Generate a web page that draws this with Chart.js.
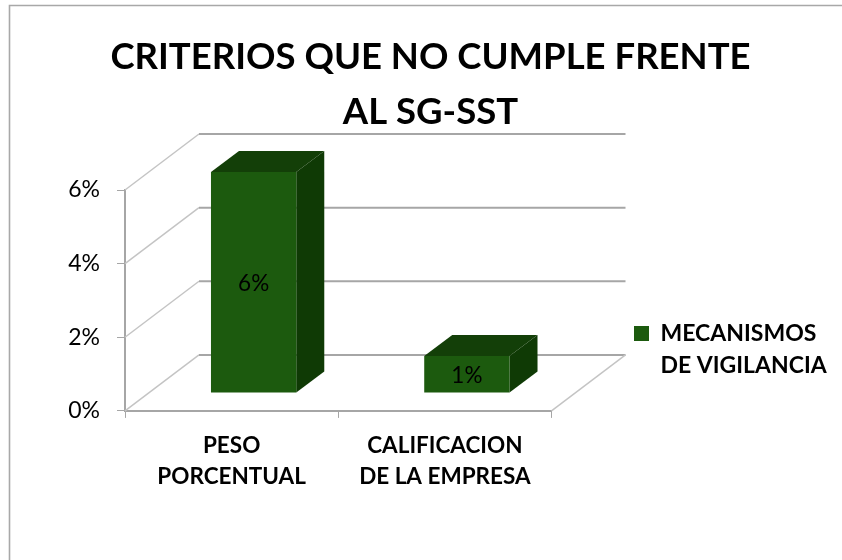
<!DOCTYPE html>
<html>
<head>
<meta charset="utf-8">
<title>Criterios</title>
<script src="https://cdn.jsdelivr.net/npm/chart.js@4"></script>
<style>
  html, body { margin: 0; padding: 0; background: #fff; }
  #wrap { width: 842px; height: 560px; position: relative; }
</style>
</head>
<body>
<div id="wrap"><canvas id="chart" width="842" height="560"></canvas></div>
<script>
var titleLines = ['CRITERIOS QUE NO CUMPLE FRENTE', 'AL SG-SST'];
var categories = [['PESO', 'PORCENTUAL'], ['CALIFICACION', 'DE LA EMPRESA']];
var seriesName = ['MECANISMOS', 'DE VIGILANCIA'];
var seriesValues = [6, 1];
var yTicks = [0, 2, 4, 6];

var FONT = 'Lato, Carlito, Calibri, sans-serif';
var GREEN = '#1c5a0e', GREEN_TOP = '#133f08', GREEN_SIDE = '#0f3a05';
var GRID = '#a6a6a6', GRID_SLANT = '#c4c4c4';

// depth of the fake 3d box, in pixels
var WALL_X = 74, WALL_Y = 56;
var BAR_SHIFT_X = 22, BAR_SHIFT_Y = 18;
var BAR_DEPTH_X = 28, BAR_DEPTH_Y = 21;

function line(ctx, pts, color, w) {
    ctx.strokeStyle = color;
    ctx.lineWidth = w;
    ctx.beginPath();
    pts.forEach(function (p, i) { i ? ctx.lineTo(p[0], p[1]) : ctx.moveTo(p[0], p[1]); });
    ctx.stroke();
}

function poly(ctx, pts, color) {
    ctx.fillStyle = color;
    ctx.beginPath();
    pts.forEach(function (p, i) { i ? ctx.lineTo(p[0], p[1]) : ctx.moveTo(p[0], p[1]); });
    ctx.closePath();
    ctx.fill();
}

var box3d = {
    id: 'box3d',
    afterLayout: function (chart) {
        // legend and title do not sit where the layout boxes would put them
        var lg = chart.legend, tt = chart.titleBlock;
        var h = lg.bottom - lg.top;
        lg.left = 624; lg.right = chart.width; lg.width = chart.width - 624;
        lg.top = 312; lg.bottom = 312 + h;
        tt.left = 19; tt.right = 842;
    },
    beforeDraw: function (chart) {
        // the frame of the pasted picture only shows on top and left
        var ctx = chart.ctx;
        ctx.save();
        line(ctx, [[9.5, chart.height], [9.5, 5.5], [chart.width, 5.5]], '#a8a8a8', 1.6);
        ctx.restore();
    },
    beforeDatasetsDraw: function (chart) {
        var ctx = chart.ctx, a = chart.chartArea, y = chart.scales.y;
        ctx.save();
        yTicks.forEach(function (t) {
            var py = y.getPixelForValue(t);
            line(ctx, [[a.left, py], [a.left + WALL_X, py - WALL_Y]], GRID_SLANT, 1.5);
            line(ctx, [[a.left + WALL_X, py - WALL_Y], [a.right + WALL_X, py - WALL_Y]], GRID, 2);
        });
        // floor, right edge
        line(ctx, [[a.right, a.bottom], [a.right + WALL_X, a.bottom - WALL_Y]], GRID_SLANT, 1.5);
        ctx.restore();
    },
    beforeDatasetDraw: function (chart, args) {
        var ctx = chart.ctx;
        ctx.save();
        ctx.translate(BAR_SHIFT_X, -BAR_SHIFT_Y);
        args.meta.data.forEach(function (b) {
            var l = b.x - b.width / 2, r = b.x + b.width / 2;
            poly(ctx, [[l, b.y], [l + BAR_DEPTH_X, b.y - BAR_DEPTH_Y], [r + BAR_DEPTH_X, b.y - BAR_DEPTH_Y], [r, b.y]], GREEN_TOP);
            poly(ctx, [[r, b.y], [r + BAR_DEPTH_X, b.y - BAR_DEPTH_Y], [r + BAR_DEPTH_X, b.base - BAR_DEPTH_Y], [r, b.base]], GREEN_SIDE);
        });
    },
    afterDatasetDraw: function (chart, args) {
        var ctx = chart.ctx;
        ctx.fillStyle = '#000';
        ctx.font = '22.5px ' + FONT;
        ctx.textAlign = 'center';
        ctx.textBaseline = 'middle';
        args.meta.data.forEach(function (b, i) {
            ctx.fillText(seriesValues[i] + '%', b.x, (b.y + b.base) / 2 + 2);
        });
        ctx.restore();
    }
};

new Chart(document.getElementById('chart'), {
    type: 'bar',
    data: {
        labels: categories,
        datasets: [{
            label: seriesName,
            data: seriesValues,
            backgroundColor: GREEN,
            barPercentage: 1,
            categoryPercentage: 0.4,
            clip: false
        }]
    },
    plugins: [box3d],
    options: {
        responsive: false,
        animation: false,
        layout: { padding: { left: 10, right: 110, top: 30, bottom: 56 } },
        plugins: {
            title: {
                display: true,
                text: titleLines,
                color: '#000',
                font: { family: FONT, size: 36.5, weight: 'bold', lineHeight: 1.507 },
                padding: { top: 0, bottom: 50 }
            },
            legend: {
                position: 'right',
                align: 'start',
                labels: {
                    color: '#000',
                    boxWidth: 15,
                    boxHeight: 15,
                    font: { family: FONT, size: 23, weight: 'bold', lineHeight: 1.4 },
                    generateLabels: function () {
                        return [{ text: seriesName, fillStyle: GREEN, strokeStyle: GREEN, lineWidth: 0, datasetIndex: 0 }];
                    }
                }
            },
            tooltip: { enabled: false }
        },
        scales: {
            x: {
                grid: { drawOnChartArea: false, color: GRID, tickLength: 7 },
                border: { color: GRID, width: 2 },
                ticks: { color: '#000', padding: 12, maxRotation: 0, font: { family: FONT, size: 22.5, weight: 'bold', lineHeight: 1.38 } }
            },
            y: {
                min: 0,
                max: 6,
                afterBuildTicks: function (axis) {
                    axis.ticks = yTicks.map(function (v) { return { value: v }; });
                },
                afterFit: function (axis) { axis.width = 115; },
                grid: { drawOnChartArea: false, color: GRID, tickLength: 8 },
                border: { color: GRID, width: 2 },
                ticks: {
                    color: '#000',
                    padding: 17,
                    font: { family: FONT, size: 23 },
                    callback: function (v) { return v + '%'; }
                }
            }
        }
    }
});
</script>
</body>
</html>
